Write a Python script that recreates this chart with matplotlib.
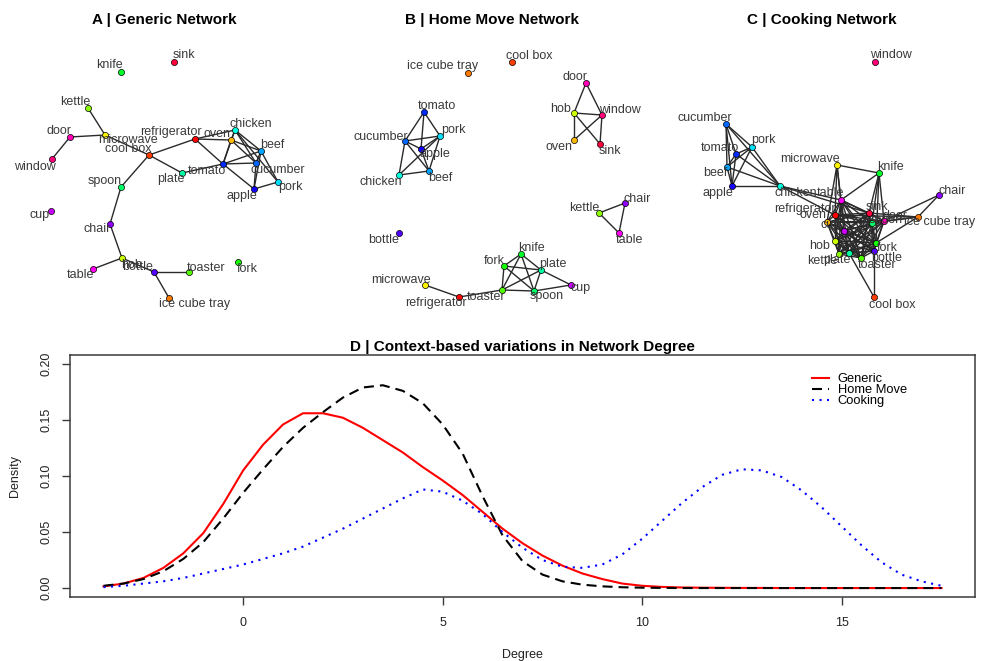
import colorsys
import itertools

import matplotlib
matplotlib.use("Agg")
import matplotlib.pyplot as plt

plt.rcParams['font.family'] = ['Liberation Sans', 'DejaVu Sans']

# ---------------------------------------------------------------- objects
objects = ["refrigerator", "cool box", "ice cube tray", "oven", "microwave",
           "hob", "kettle", "toaster", "fork", "knife", "spoon", "plate",
           "chicken", "pork", "beef", "cucumber", "tomato", "apple", "bottle",
           "chair", "cup", "table", "door", "window", "sink"]

# ---------------------------------------------------------------- A | generic
generic_layout = {
    "knife": (121, 72), "sink": (174, 62), "kettle": (88, 108),
    "door": (70, 137), "window": (52, 159), "microwave": (105, 135),
    "cool box": (149, 155), "refrigerator": (195, 139), "oven": (231, 140),
    "chicken": (235, 130), "beef": (261, 151), "cucumber": (256, 163),
    "tomato": (223, 164), "plate": (182, 173), "pork": (278, 182),
    "apple": (254, 189), "spoon": (121, 187), "cup": (51, 211),
    "chair": (110, 224), "hob": (122, 258), "table": (93, 269),
    "bottle": (154, 272), "toaster": (189, 272), "fork": (238, 262),
    "ice cube tray": (169, 298),
}
generic_labels = {
    "knife": (-12, -7), "sink": (10, -7), "kettle": (-13, -6),
    "door": (-11, -6), "window": (-17, 8), "microwave": (23, 5),
    "cool box": (-21, -6), "refrigerator": (-24, -7), "oven": (-14, -6),
    "chicken": (16, -6), "beef": (11, -6), "cucumber": (22, 7),
    "tomato": (-16, 7), "plate": (-11, 6), "pork": (12, 5),
    "apple": (-12, 7), "spoon": (-16, -6), "cup": (-11, 4),
    "chair": (-13, 5), "hob": (10, 7), "table": (-13, 6),
    "bottle": (-16, -5), "toaster": (17, -4), "fork": (9, 7),
    "ice cube tray": (26, 6),
}
generic_edges = [
    ("kettle", "microwave"), ("door", "microwave"), ("door", "window"),
    ("microwave", "cool box"), ("cool box", "refrigerator"),
    ("cool box", "plate"), ("cool box", "spoon"), ("spoon", "chair"),
    ("chair", "hob"), ("hob", "table"), ("hob", "bottle"),
    ("bottle", "toaster"), ("bottle", "ice cube tray"),
    ("refrigerator", "oven"), ("refrigerator", "chicken"),
    ("refrigerator", "tomato"), ("plate", "tomato"),
    ("oven", "chicken"), ("oven", "tomato"), ("oven", "beef"),
    ("oven", "cucumber"), ("chicken", "tomato"), ("chicken", "beef"),
    ("chicken", "cucumber"), ("chicken", "pork"), ("tomato", "beef"),
    ("tomato", "cucumber"), ("tomato", "apple"), ("beef", "cucumber"),
    ("beef", "pork"), ("beef", "apple"), ("cucumber", "apple"),
    ("pork", "apple"),
]

# ---------------------------------------------------------------- B | home move
homemove_layout = {
    "ice cube tray": (138, 73), "cool box": (182, 62), "door": (256, 83),
    "hob": (244, 113), "window": (272, 115), "oven": (244, 140),
    "sink": (270, 144), "tomato": (94, 112), "pork": (110, 136),
    "cucumber": (75, 141), "apple": (91, 149), "chicken": (69, 175),
    "beef": (99, 171), "bottle": (69, 233), "kettle": (269, 213),
    "chair": (295, 203), "table": (289, 233), "knife": (191, 254),
    "fork": (174, 266), "plate": (211, 270), "cup": (241, 285),
    "spoon": (204, 291), "toaster": (172, 290), "microwave": (95, 285),
    "refrigerator": (129, 297),
}
homemove_labels = {
    "ice cube tray": (-25, -7), "cool box": (17, -6), "door": (-11, -6),
    "hob": (-13, -4), "window": (18, -5), "oven": (-15, 7),
    "sink": (10, 7), "tomato": (13, -6), "pork": (13, -6),
    "cucumber": (-24, -4), "apple": (14, 5), "chicken": (-18, 7),
    "beef": (11, 7), "bottle": (-15, 7), "kettle": (-15, -5),
    "chair": (12, -4), "table": (10, 7), "knife": (10, -6),
    "fork": (-10, -5), "plate": (12, -6), "cup": (10, 3),
    "spoon": (13, 5), "toaster": (-16, 7), "microwave": (-24, -5),
    "refrigerator": (-23, 6),
}
homemove_edges = [
    ("tomato", "cucumber"), ("tomato", "pork"), ("tomato", "apple"),
    ("cucumber", "pork"), ("cucumber", "apple"), ("cucumber", "chicken"),
    ("cucumber", "beef"), ("pork", "apple"), ("pork", "chicken"),
    ("pork", "beef"), ("apple", "beef"), ("chicken", "beef"),
    ("door", "hob"), ("door", "window"), ("hob", "window"), ("hob", "oven"),
    ("hob", "sink"), ("window", "oven"), ("window", "sink"),
    ("kettle", "chair"), ("kettle", "table"), ("chair", "table"),
    ("knife", "fork"), ("knife", "plate"), ("knife", "toaster"),
    ("knife", "spoon"), ("fork", "plate"), ("fork", "toaster"),
    ("fork", "spoon"), ("plate", "toaster"), ("plate", "spoon"),
    ("plate", "cup"), ("toaster", "spoon"), ("spoon", "cup"),
    ("toaster", "refrigerator"), ("refrigerator", "microwave"),
]

# ---------------------------------------------------------------- C | cooking
cooking_layout = {
    "window": (220, 62), "cucumber": (71, 124), "pork": (97, 147),
    "tomato": (81, 154), "beef": (72, 167), "apple": (77, 186),
    "chicken": (125, 186), "microwave": (182, 165), "knife": (224, 173),
    "chair": (284, 195), "table": (186, 200), "refrigerator": (180, 215),
    "oven": (172, 222), "sink": (214, 213), "door": (229, 221),
    "ice cube tray": (263, 217), "spoon": (217, 223), "cup": (189, 231),
    "hob": (180, 241), "fork": (221, 243), "bottle": (219, 251),
    "kettle": (184, 254), "plate": (194, 253), "toaster": (206, 258),
    "cool box": (219, 297),
}
cooking_labels = {
    "window": (16, -7), "cucumber": (-21, -6), "pork": (11, -7),
    "tomato": (-16, -6), "beef": (-12, 6), "apple": (-14, 7),
    "chicken": (16, 7), "microwave": (-27, -6), "knife": (11, -6),
    "chair": (13, -4), "table": (-11, -7), "refrigerator": (-30, -6),
    "oven": (-14, -7), "sink": (8, -6), "door": (11, -5),
    "ice cube tray": (22, 5), "spoon": (14, -3), "cup": (-13, -6),
    "hob": (-15, 5), "fork": (11, 5), "bottle": (13, 7),
    "kettle": (-17, 7), "plate": (-12, 7), "toaster": (16, 7),
    "cool box": (18, 8),
}
# objects that all co-occur with one another while cooking
cooking_core = ["table", "refrigerator", "oven", "sink", "door", "spoon",
                "cup", "hob", "fork", "bottle", "kettle", "plate", "toaster"]
cooking_food = ["cucumber", "tomato", "pork", "beef", "apple", "chicken"]
cooking_extra_edges = [
    ("chicken", "table"), ("chicken", "refrigerator"), ("chicken", "sink"),
    ("microwave", "table"), ("microwave", "refrigerator"),
    ("microwave", "oven"), ("microwave", "knife"), ("microwave", "cup"),
    ("knife", "table"), ("knife", "sink"), ("knife", "spoon"),
    ("knife", "fork"), ("knife", "door"), ("chair", "door"),
    ("chair", "ice cube tray"), ("ice cube tray", "sink"),
    ("ice cube tray", "door"), ("ice cube tray", "spoon"),
    ("ice cube tray", "fork"), ("ice cube tray", "refrigerator"),
    ("cool box", "plate"), ("cool box", "bottle"),
]
cooking_edges = (list(itertools.combinations(cooking_core, 2))
                 + list(itertools.combinations(cooking_food, 2))
                 + cooking_extra_edges)

# ---------------------------------------------------------------- D | degree densities
degree = [-3.5, -3.0, -2.5, -2.0, -1.5, -1.0, -0.5, 0.0, 0.5, 1.0, 1.5,
          2.0, 2.5, 3.0, 3.5, 4.0, 4.5, 5.0, 5.5, 6.0, 6.5, 7.0, 7.5, 8.0,
          8.5, 9.0, 9.5, 10.0, 10.5, 11.0, 11.5, 12.0, 12.5, 13.0, 13.5,
          14.0, 14.5, 15.0, 15.5, 16.0, 16.5, 17.0, 17.5]
density_generic = [0.0015, 0.004, 0.009, 0.018, 0.031, 0.049, 0.075, 0.105,
                   0.128, 0.146, 0.156, 0.156, 0.152, 0.143, 0.132, 0.121,
                   0.108, 0.096, 0.083, 0.068, 0.053, 0.040, 0.029, 0.020,
                   0.013, 0.008, 0.004, 0.002, 0.001, 0.0005, 0.0003, 0.0002,
                   0.0001, 0.0001, 0.0, 0.0, 0.0, 0.0, 0.0, 0.0, 0.0, 0.0, 0.0]
density_homemove = [0.002, 0.004, 0.008, 0.015, 0.026, 0.041, 0.062, 0.085,
                    0.106, 0.126, 0.143, 0.157, 0.170, 0.179, 0.181, 0.176,
                    0.165, 0.146, 0.120, 0.082, 0.047, 0.024, 0.012, 0.006,
                    0.003, 0.0015, 0.0007, 0.0003, 0.0001, 0.0, 0.0, 0.0,
                    0.0, 0.0, 0.0, 0.0, 0.0, 0.0, 0.0, 0.0, 0.0, 0.0, 0.0]
density_cooking = [0.0008, 0.002, 0.004, 0.006, 0.009, 0.013, 0.017, 0.021,
                   0.026, 0.031, 0.037, 0.045, 0.053, 0.062, 0.071, 0.080,
                   0.088, 0.086, 0.078, 0.066, 0.050, 0.036, 0.025, 0.019,
                   0.018, 0.021, 0.030, 0.044, 0.060, 0.076, 0.090, 0.101,
                   0.106, 0.105, 0.099, 0.087, 0.072, 0.055, 0.038, 0.023,
                   0.012, 0.006, 0.002]
series_names = ["Generic", "Home Move", "Cooking"]

# ---------------------------------------------------------------- styling
palette = {name: colorsys.hsv_to_rgb(i / len(objects), 1.0, 1.0)
           for i, name in enumerate(objects)}
EDGE_COLOR = "#2a2a2a"
LABEL_COLOR = "#3a3a3a"
AXIS_COLOR = "#3a3a3a"

W, H = 981, 661
fig = plt.figure(figsize=(W / 100, H / 100), dpi=100)

PANEL_H = 325


def panel_axes(left, width):
    ax = fig.add_axes([left / W, 1 - PANEL_H / H, width / W, PANEL_H / H])
    ax.set_xlim(0, width)
    ax.set_ylim(PANEL_H, 0)
    ax.set_axis_off()
    return ax


def draw_network(ax, layout, edges, label_offsets, title, title_x):
    for a, b in edges:
        (xa, ya), (xb, yb) = layout[a], layout[b]
        ax.plot([xa, xb], [ya, yb], color=EDGE_COLOR, lw=1.0, zorder=1,
                solid_capstyle="round")
    for name, (x, y) in layout.items():
        ax.plot(x, y, "o", ms=4.4, mfc=palette[name], mec="black",
                mew=0.5, zorder=3)
    for name, (x, y) in layout.items():
        dx, dy = label_offsets[name]
        ax.text(x + dx, y + dy, name, ha="center", va="center", fontsize=9,
                color=LABEL_COLOR, zorder=4, clip_on=False)
    ax.text(title_x, 20, title, ha="center", va="center", fontsize=11,
            fontweight="bold", color="black")


ax_a = panel_axes(0, 330)
draw_network(ax_a, generic_layout, generic_edges, generic_labels,
             "A | Generic Network", 164)
ax_b = panel_axes(330, 325)
draw_network(ax_b, homemove_layout, homemove_edges, homemove_labels,
             "B | Home Move Network", 162)
ax_c = panel_axes(655, 326)
draw_network(ax_c, cooking_layout, cooking_edges, cooking_labels,
             "C | Cooking Network", 167)

# ---------------------------------------------------------------- density plot
box_l, box_r, box_t, box_b = 70, 975, 355, 597
ax = fig.add_axes([box_l / W, 1 - box_b / H, (box_r - box_l) / W,
                   (box_b - box_t) / H])
ax.plot(degree, density_generic, color="red", lw=1.5, label=series_names[0])
ax.plot(degree, density_homemove, color="black", lw=1.5,
        dashes=(4.8, 2.9), label=series_names[1])
ax.plot(degree, density_cooking, color="blue", lw=1.5, dashes=(1.0, 2.6),
        dash_capstyle="butt", label=series_names[2])

span = degree[-1] - degree[0]
ax.set_xlim(degree[0] - 0.04 * span, degree[-1] + 0.04 * span)
ax.set_ylim(-0.04 * 0.2, 0.2 * 1.04)
ax.set_xticks([0, 5, 10, 15])
ax.set_yticks([0.0, 0.05, 0.10, 0.15, 0.20])
ax.set_yticklabels(["0.00", "0.05", "0.10", "0.15", "0.20"], rotation=90,
                   va="center")
ax.tick_params(axis="both", direction="out", length=5.5, width=1.0,
               color=AXIS_COLOR, labelsize=9, labelcolor="#222222")
ax.tick_params(axis="x", pad=9)
ax.tick_params(axis="y", pad=7)
for side in ax.spines.values():
    side.set_color(AXIS_COLOR)
    side.set_linewidth(1.1)

ax.set_xlabel("Degree", fontsize=9, color="#222222")
ax.xaxis.set_label_coords(0.5, -0.215)
ax.set_ylabel("Density", fontsize=9, color="#222222")
ax.yaxis.set_label_coords(-0.054, 0.5)
ax.set_title("D | Context-based variations in Network Degree", fontsize=11,
             fontweight="bold", pad=3)

ax.legend(loc="upper left", bbox_to_anchor=(0.8197, 0.925), frameon=False,
          fontsize=9.3, handlelength=1.3, handletextpad=0.7,
          labelspacing=-0.08, borderpad=0, borderaxespad=0)

fig.savefig("out.png", dpi=100)
